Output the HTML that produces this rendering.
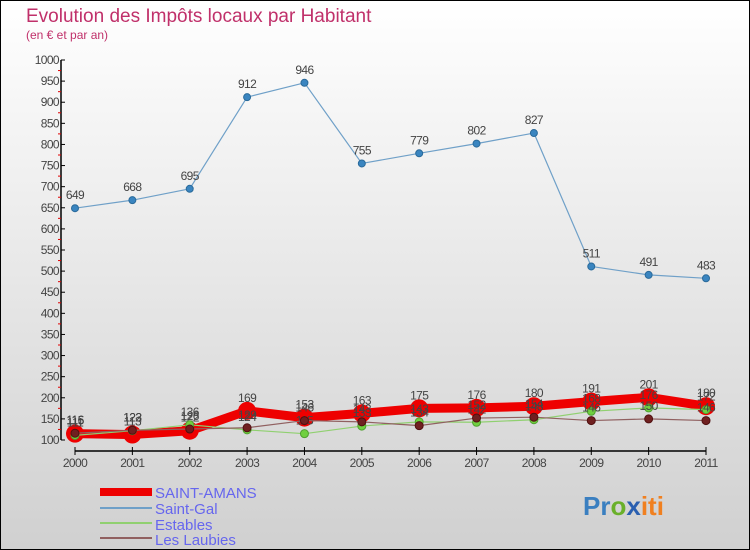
<!DOCTYPE html>
<html><head><meta charset="utf-8"><style>
html,body{margin:0;padding:0;}
body{width:750px;height:550px;overflow:hidden;}
svg{display:block;font-family:"Liberation Sans",sans-serif;}
</style></head><body>
<svg id="chart" width="750" height="550" viewBox="0 0 750 550">
<defs><linearGradient id="bg" x1="0" y1="0" x2="0" y2="1"><stop offset="0" stop-color="#ffffff"/><stop offset="1" stop-color="#d0d0d0"/></linearGradient></defs>
<rect x="0.5" y="0.5" width="749" height="549" fill="url(#bg)" stroke="#000"/>
<text x="26" y="22" font-size="19" fill="#c0306a">Evolution des Impôts locaux par Habitant</text>
<text x="26" y="39" font-size="12" fill="#c0306a">(en € et par an)</text>
<g id="axes"></g>
<g id="series"></g>
<g id="legend">
<rect x="100" y="488" width="52" height="8" fill="#ee0000"/>
<text x="155" y="498" font-size="15" fill="#6666ee">SAINT-AMANS</text>
<line x1="100" y1="508" x2="152" y2="508" stroke="#6fa0c8" stroke-width="2"/>
<text x="155" y="514" font-size="15" fill="#6666ee">Saint-Gal</text>
<line x1="100" y1="523" x2="152" y2="523" stroke="#90d070" stroke-width="2"/>
<text x="155" y="530" font-size="15" fill="#6666ee">Estables</text>
<line x1="100" y1="538" x2="152" y2="538" stroke="#906060" stroke-width="2"/>
<text x="155" y="545" font-size="15" fill="#6666ee">Les Laubies</text>
</g>
<text x="583" y="515" font-size="26" font-weight="bold"><tspan fill="#3a7fc0">Pr</tspan><tspan fill="#6ab02a">o</tspan><tspan fill="#2a5fb0">x</tspan><tspan fill="#f08020">iti</tspan></text>
</svg>
<script>
const years = ["2000","2001","2002","2003","2004","2005","2006","2007","2008","2009","2010","2011"];
const saintAmans = [115,113,122,169,153,163,175,176,180,191,201,180];
const saintGal = [649,668,695,912,946,755,779,802,827,511,491,483];
const estables = [111,122,136,124,115,133,143,142,148,168,176,172];
const lesLaubies = [116,123,126,129,146,143,134,152,154,146,150,146];
const yTicks = [100,150,200,250,300,350,400,450,500,550,600,650,700,750,800,850,900,950,1000];

const NS="http://www.w3.org/2000/svg";
function X(i){return 75+i*(706-75)/(years.length-1);}
function Y(v){return 440-(v-100)*(380/900);}
function mk(tag,attrs,parent){const e=document.createElementNS(NS,tag);for(const k in attrs)e.setAttribute(k,attrs[k]);parent.appendChild(e);return e;}
const axes=document.getElementById('axes');
const ya=mk('line',{x1:61,y1:Y(1000),x2:61,y2:Y(100),stroke:'#000','stroke-width':1.5},axes);


yTicks.forEach((t,i)=>{
  const y=Y(t);
  const tk=mk('line',{x1:61,y1:y,x2:65,y2:y,stroke:'#000'},axes);
  
  
  if(i<yTicks.length-1){
    const m=mk('line',{x1:58,y1:Y(t+25),x2:61,y2:Y(t+25),stroke:'#e00000'},axes);
    
    
  }
  const lb=mk('text',{x:59,y:y+4,'font-size':12,'text-anchor':'end',fill:'#444','letter-spacing':'-0.6'},axes);
  lb.textContent=t;
  
  
});
const xa=mk('line',{x1:X(0),y1:451,x2:X(years.length-1),y2:451,stroke:'#000','stroke-width':1.5},axes);


years.forEach((yr,i)=>{
  const tk=mk('line',{x1:X(i),y1:447,x2:X(i),y2:455,stroke:'#000'},axes);
  
  
  const lb=mk('text',{x:X(i),y:467,'font-size':12,'text-anchor':'middle',fill:'#444','letter-spacing':'-0.6'},axes);
  lb.textContent=yr;
  
  
});
const sg=document.getElementById('series');
function draw(data,name,color,w,r,dot,stroke){
  const g=mk('g',{},sg);
  
  
  const pl=mk('polyline',{points:data.map((v,i)=>X(i)+','+Y(v)).join(' '),fill:'none',stroke:color,'stroke-width':w,'stroke-linejoin':'round'},g);
  
  
  data.forEach((v,i)=>{
    const c=mk('circle',{cx:X(i),cy:Y(v),r:r,fill:dot,stroke:stroke,'stroke-width':1},g);
    
    
    const t=mk('text',{x:X(i),y:Y(v)-9,'font-size':12,'text-anchor':'middle',fill:'#444','letter-spacing':'-0.6'},g);
    t.textContent=v;
    
    
  });
}
draw(saintAmans,'saint-amans','#ee0000',9,9,'#ee0000','none');
draw(saintGal,'saint-gal','#6fa0c8',1.2,3.5,'#3a85c0','#2a6a9a');
draw(estables,'estables','#90d070',1.2,4,'#70d040','#50a030');
draw(lesLaubies,'les-laubies','#906060',1.2,4,'#702020','#501010');
</script>
</body></html>
